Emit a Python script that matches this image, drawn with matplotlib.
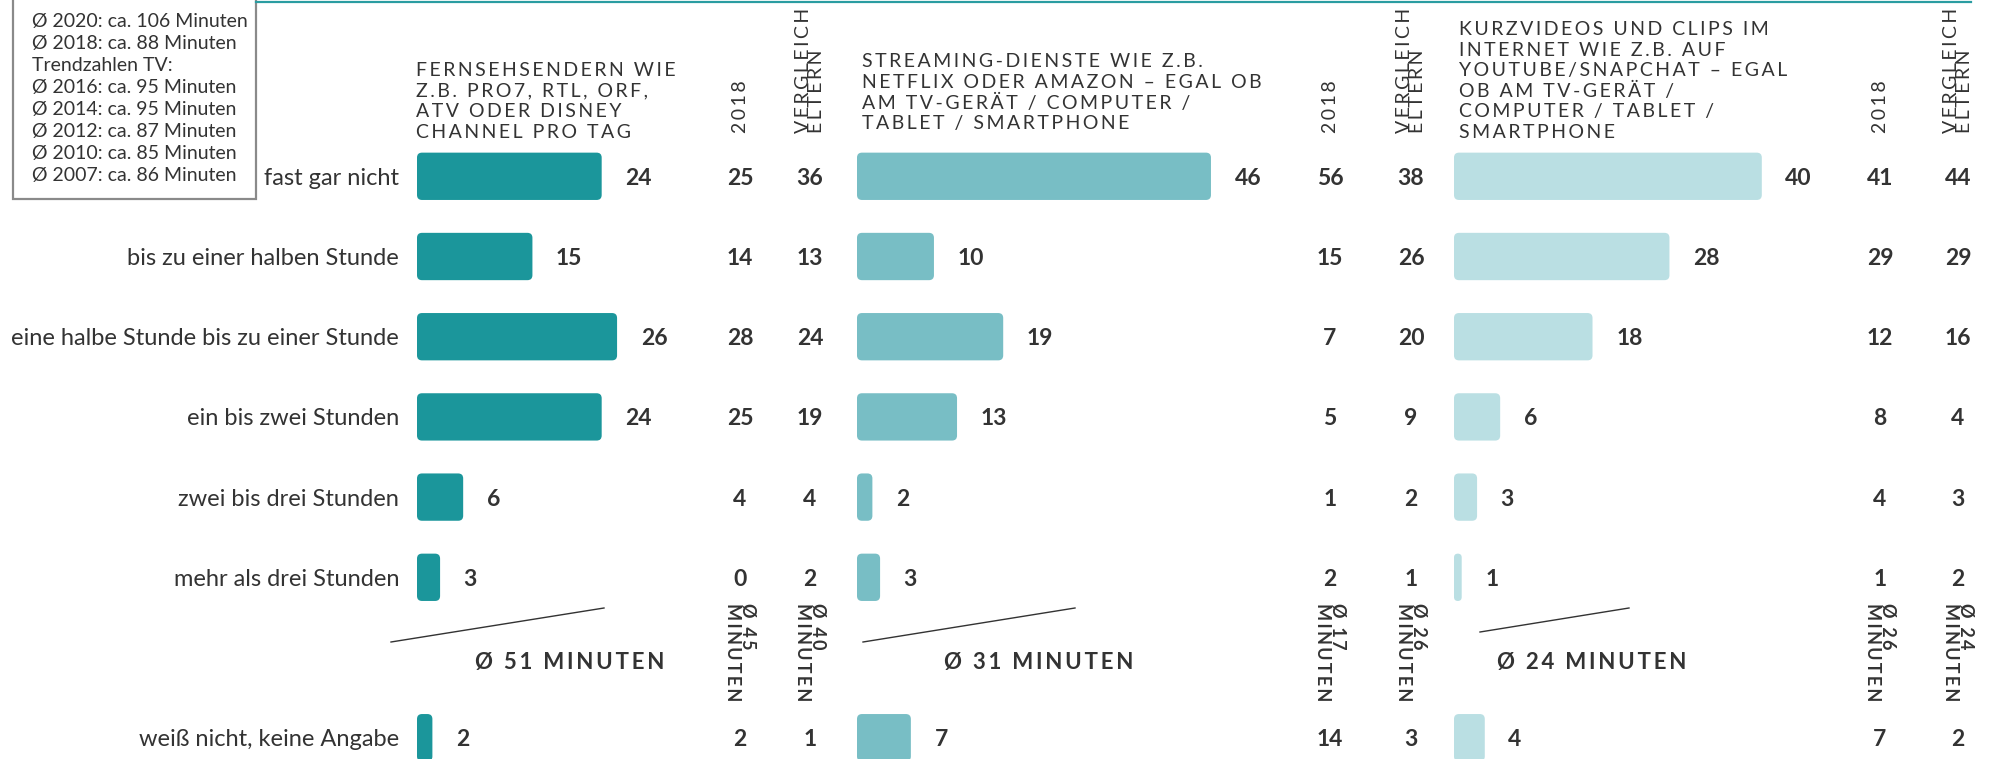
import matplotlib
matplotlib.use("Agg")
import matplotlib.pyplot as plt
from matplotlib.patches import FancyBboxPatch, Rectangle
from matplotlib.lines import Line2D
from matplotlib.transforms import blended_transform_factory

plt.rcParams['font.family'] = ['Lato', 'DejaVu Sans']

# ---------------- data ----------------
categories = ["fast gar nicht", "bis zu einer halben Stunde",
              "eine halbe Stunde bis zu einer Stunde", "ein bis zwei Stunden",
              "zwei bis drei Stunden", "mehr als drei Stunden",
              "weiß nicht, keine Angabe"]
row_pos = [0, 1, 2, 3, 4, 5, 7]

group_titles = [
    "FERNSEHSENDERN WIE\nZ.B. PRO7, RTL, ORF,\nATV ODER DISNEY\nCHANNEL PRO TAG",
    "STREAMING-DIENSTE WIE Z.B.\nNETFLIX ODER AMAZON – EGAL OB\nAM TV-GERÄT / COMPUTER /\nTABLET / SMARTPHONE",
    "KURZVIDEOS UND CLIPS IM\nINTERNET WIE Z.B. AUF\nYOUTUBE/SNAPCHAT – EGAL\nOB AM TV-GERÄT /\nCOMPUTER / TABLET /\nSMARTPHONE",
]
tv_2020 = [24, 15, 26, 24, 6, 3, 2]
tv_2018 = [25, 14, 28, 25, 4, 0, 2]
tv_eltern = [36, 13, 24, 19, 4, 2, 1]
stream_2020 = [46, 10, 19, 13, 2, 3, 7]
stream_2018 = [56, 15, 7, 5, 1, 2, 14]
stream_eltern = [38, 26, 20, 9, 2, 1, 3]
clips_2020 = [40, 28, 18, 6, 3, 1, 4]
clips_2018 = [41, 29, 12, 8, 4, 1, 7]
clips_eltern = [44, 29, 16, 4, 3, 2, 2]

avg_2020 = ["Ø 51 MINUTEN", "Ø 31 MINUTEN", "Ø 24 MINUTEN"]
avg_2018 = ["Ø 45\nMINUTEN", "Ø 17\nMINUTEN", "Ø 26\nMINUTEN"]
avg_eltern = ["Ø 40\nMINUTEN", "Ø 26\nMINUTEN", "Ø 24\nMINUTEN"]
col_2018_label = "2018"
col_eltern_label = "VERGLEICH\nELTERN"

trend_lines = ["Ø 2020: ca. 106 Minuten", "Ø 2018: ca. 88 Minuten",
               "Trendzahlen TV:", "Ø 2016: ca. 95 Minuten",
               "Ø 2014: ca. 95 Minuten", "Ø 2012: ca. 87 Minuten",
               "Ø 2010: ca. 85 Minuten", "Ø 2007: ca. 86 Minuten"]

series_2020 = [tv_2020, stream_2020, clips_2020]
series_2018 = [tv_2018, stream_2018, clips_2018]
series_eltern = [tv_eltern, stream_eltern, clips_eltern]
colors = ["#1b969b", "#78bec5", "#badfe3"]

# ---------------- layout ----------------
W, H = 2011, 759
fig = plt.figure(figsize=(W / 100, H / 100), dpi=100)
fig.patch.set_facecolor("white")
TXT = "#333333"

def fx(px):
    return px / W

def fy(py):
    return 1 - py / H

def spaced(s, sp="\u2009"):
    return "\n".join(sp.join(line) for line in s.split("\n"))

PX_PER_UNIT = 7.695
ROW0, ROWSTEP = 176.3, 80.2
BAR_H = 0.59
y_top = -ROW0 / ROWSTEP
y_bot = (H - ROW0) / ROWSTEP

bar_left = [417, 857, 1454]
header_left = [416, 862, 1459]
ax_width = [330, 420, 330]
col_2018_x = [740, 1330, 1880]
col_eltern_x = [810, 1411, 1958]
header_top = [[70.5, 91, 111.6, 132], [61.5, 82, 102.6, 123],
              [29.5, 50, 70.5, 91, 111.6, 132]]
avg_center = [570, 1039, 1592]
diag = [((391, 642), (604, 608)), ((863, 642), (1075, 608)),
        ((1480, 632), (1629, 608))]

for g in range(3):
    ax = fig.add_axes([fx(bar_left[g]), 0, fx(ax_width[g]), 1])
    ax.set_xlim(0, ax_width[g] / PX_PER_UNIT)
    ax.set_ylim(y_bot, y_top)
    ax.axis("off")
    bars = ax.barh(row_pos, series_2020[g], height=BAR_H, color=colors[g])
    asp = PX_PER_UNIT / ROWSTEP
    for rect in bars:
        x, y, w, h = rect.get_x(), rect.get_y(), rect.get_width(), rect.get_height()
        r = min(5.0, w * PX_PER_UNIT / 2) / PX_PER_UNIT
        rect.remove()
        p = FancyBboxPatch((x, y), w, h,
                           boxstyle=f"round,pad=0,rounding_size={r}",
                           mutation_aspect=asp, facecolor=colors[g],
                           edgecolor="none", clip_on=False)
        ax.add_patch(p)
    for v, yp in zip(series_2020[g], row_pos):
        ax.annotate(str(v), xy=(v, yp), xytext=(17, 0), textcoords="offset points",
                    ha="left", va="center_baseline", fontsize=16.5,
                    fontweight="bold", color=TXT, annotation_clip=False)
    tr = blended_transform_factory(fig.transFigure, ax.transData)
    for v, yp in zip(series_2018[g], row_pos):
        ax.text(fx(col_2018_x[g]), yp, str(v), transform=tr, ha="center",
                va="center_baseline", fontsize=16.5, fontweight="bold", color=TXT)
    for v, yp in zip(series_eltern[g], row_pos):
        ax.text(fx(col_eltern_x[g]), yp, str(v), transform=tr, ha="center",
                va="center_baseline", fontsize=16.5, fontweight="bold", color=TXT)
    if g == 0:
        for c, yp in zip(categories, row_pos):
            ax.text(fx(399), yp, c, transform=tr, ha="right",
                    va="center_baseline", fontsize=17, color=TXT)

    # header
    for line, yy in zip(group_titles[g].split("\n"), header_top[g]):
        fig.text(fx(header_left[g]), fy(yy), spaced(line), ha="left",
                 va="center", fontsize=14, color=TXT)
    # rotated column headers
    fig.text(fx(col_2018_x[g]), fy(133), spaced(col_2018_label), rotation=90,
             ha="center", va="bottom", fontsize=14, color=TXT)
    fig.text(fx(col_eltern_x[g]), fy(133), spaced(col_eltern_label), rotation=90,
             ha="center", va="bottom", fontsize=14, color=TXT,
             multialignment="left", linespacing=0.75)
    # averages
    fig.text(fx(avg_center[g]), fy(662), spaced(avg_2020[g]), ha="center",
             va="center", fontsize=16, fontweight="bold", color=TXT)
    fig.text(fx(col_2018_x[g]), fy(603), spaced(avg_2018[g]), rotation=270,
             ha="center", va="top", fontsize=13, fontweight="bold", color=TXT,
             multialignment="left", linespacing=0.8)
    fig.text(fx(col_eltern_x[g]), fy(603), spaced(avg_eltern[g]), rotation=270,
             ha="center", va="top", fontsize=13, fontweight="bold", color=TXT,
             multialignment="left", linespacing=0.8)
    (x0, y0), (x1, y1) = diag[g]
    fig.add_artist(Line2D([fx(x0), fx(x1)], [fy(y0), fy(y1)], color=TXT, lw=1.0))

# top line
fig.add_artist(Line2D([fx(256), fx(1971)], [fy(1.5), fy(1.5)], color="#2a9ca1", lw=1.6))
# legend box
fig.add_artist(Rectangle((fx(13), fy(199)), fx(256 - 13), 199 / H + 0.02,
                         transform=fig.transFigure, facecolor="white",
                         edgecolor="#8a8a8a", lw=1.6))
trend_y = [21.8, 43.6, 65.4, 88.0, 110, 132, 154, 176]
for t, yy in zip(trend_lines, trend_y):
    fig.text(fx(32), fy(yy), t, ha="left", va="center", fontsize=14, color=TXT)

fig.savefig("out.png", dpi=100, facecolor="white")
